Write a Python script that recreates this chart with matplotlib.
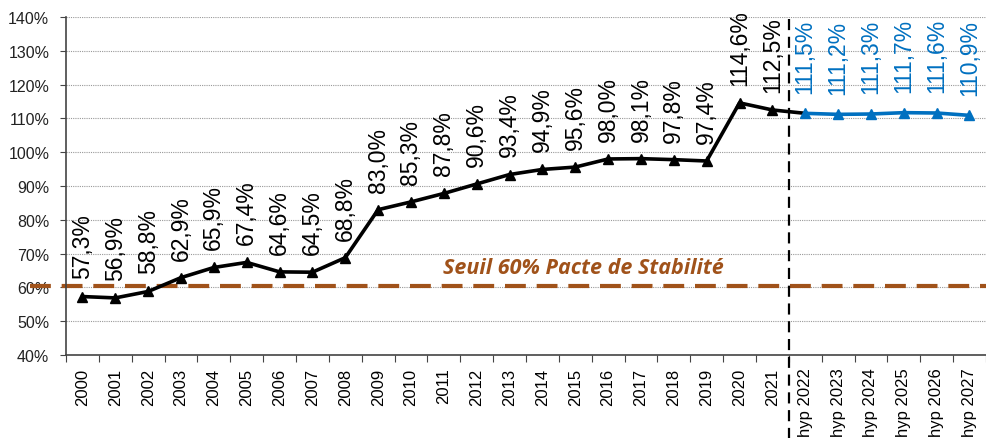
import numpy as np
import matplotlib.pyplot as plt
import matplotlib.transforms as mtransforms

# Data
years = ["2000", "2001", "2002", "2003", "2004", "2005", "2006", "2007", "2008",
         "2009", "2010", "2011", "2012", "2013", "2014", "2015", "2016", "2017",
         "2018", "2019", "2020", "2021"]
hyp_years = ["hyp 2022", "hyp 2023", "hyp 2024", "hyp 2025", "hyp 2026", "hyp 2027"]
debt = [57.3, 56.9, 58.8, 62.9, 65.9, 67.4, 64.6, 64.5, 68.8, 83.0, 85.3, 87.8,
        90.6, 93.4, 94.9, 95.6, 98.0, 98.1, 97.8, 97.4, 114.6, 112.5]
debt_hyp = [111.5, 111.2, 111.3, 111.7, 111.6, 110.9]
threshold = 60.5
threshold_label = "Seuil 60% Pacte de Stabilité"

plt.rcParams['font.family'] = ['Liberation Sans', 'DejaVu Sans']

labels = years + hyp_years
x = np.arange(len(labels))
x_hist = x[:len(years)]
x_hyp = x[len(years):]
blue = "#0070C0"
brown = "#A0521A"

fig = plt.figure(figsize=(9.87, 4.39), dpi=100)
ax = fig.add_axes([0.0669, 0.189, 0.932, 0.770])

# grid
ax.set_ylim(40, 140)
ax.set_xlim(-0.5, len(labels) - 0.5)
ax.set_yticks(np.arange(40, 141, 10))
ax.set_yticklabels([f"{v}%" for v in range(40, 141, 10)])
ax.yaxis.grid(True, linestyle=(0, (1, 1)), color="#999999", linewidth=0.8)
ax.set_axisbelow(True)

# threshold line (runs a bit into the left margin)
trans_t = mtransforms.blended_transform_factory(fig.transFigure, ax.transData)
ax.plot([0.03, 1.0], [threshold, threshold], transform=trans_t, color=brown,
        linewidth=3, linestyle=(0, (5, 2.6)), clip_on=False, zorder=2)
ax.text(10.97, 66, threshold_label, color=brown, fontsize=15.5, fontweight="bold",
        fontstyle="italic", family=["Open Sans", "DejaVu Sans"], va="center", ha="left")

# historical series, joined to first projection year
ax.plot(list(x_hist) + [x_hyp[0]], debt + [debt_hyp[0]], color="black",
        linewidth=2.6, zorder=3)
ax.plot(x_hist, debt, color="black", linewidth=0, marker="^", markersize=7.5, zorder=4)
ax.plot(x_hyp, debt_hyp, color=blue, linewidth=2.6, marker="^", markersize=7.5, zorder=4)

# separator between observed and projected
trans_v = mtransforms.blended_transform_factory(ax.transData, ax.transAxes)
ax.plot([len(years) - 0.5] * 2, [0.995, -0.25], transform=trans_v, color="black",
        linewidth=1.6, linestyle=(0, (5, 3)), clip_on=False, zorder=5)

# data labels
for xi, v in zip(x_hist, debt):
    ax.annotate(f"{v:.1f}%".replace(".", ","), (xi, v), xytext=(0, 13),
                textcoords="offset points", rotation=90, ha="center", va="bottom",
                fontsize=16.5, color="black")
for xi, v in zip(x_hyp, debt_hyp):
    ax.annotate(f"{v:.1f}%".replace(".", ","), (xi, v), xytext=(0, 15),
                textcoords="offset points", rotation=90, ha="center", va="bottom",
                fontsize=16.5, color=blue)

# category axis: ticks between categories, labels centered
ax.set_xticks(np.arange(-0.5, len(labels), 1.0))
ax.set_xticklabels([])
ax.set_xticks(x, minor=True)
ax.set_xticklabels(labels, minor=True, rotation=90, fontsize=12)
ax.tick_params(axis="x", which="minor", length=0, pad=9)
ax.tick_params(axis="x", which="major", length=5, color="#444444")
ax.tick_params(axis="y", length=4, color="#444444", labelsize=11.5,
               labelcolor="#222222", pad=8)

for side in ["top", "right"]:
    ax.spines[side].set_visible(False)
for side in ["left", "bottom"]:
    ax.spines[side].set_color("#444444")
    ax.spines[side].set_linewidth(1.2)

fig.savefig("out.png", dpi=100)
